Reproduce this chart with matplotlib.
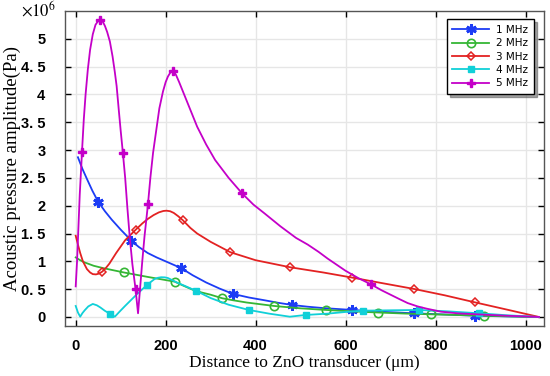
import matplotlib
matplotlib.use("Agg")
import matplotlib.pyplot as plt
from matplotlib.lines import Line2D

# values (x in um, y in 1e6 Pa)
x_1mhz = [5, 15, 25, 37, 50, 65, 80, 100, 124, 140, 160, 180, 200, 235, 260, 290, 320, 350, 385, 420, 450, 481, 515, 550, 615, 690, 752, 820, 887, 960, 1030]
y_1mhz = [2.87, 2.66, 2.48, 2.27, 2.07, 1.9, 1.75, 1.57, 1.37, 1.26, 1.15, 1.07, 1.0, 0.876, 0.75, 0.62, 0.51, 0.414, 0.35, 0.3, 0.255, 0.216, 0.185, 0.16, 0.126, 0.09, 0.066, 0.045, 0.023, 0.01, 0.0]
mk_1mhz_x = [50, 124, 235, 350, 481, 615, 752, 887]

x_2mhz = [0, 10, 20, 40, 60, 107, 160, 220, 240, 260, 280, 300, 326, 350, 380, 441, 500, 557, 615, 673, 730, 790, 850, 907, 970, 1030]
y_2mhz = [1.07, 1.02, 0.98, 0.92, 0.88, 0.80, 0.72, 0.635, 0.56, 0.49, 0.44, 0.40, 0.336, 0.3, 0.26, 0.198, 0.155, 0.126, 0.10, 0.08, 0.062, 0.048, 0.035, 0.023, 0.01, 0.0]
mk_2mhz_x = [107, 220, 326, 441, 557, 673, 790, 907]

x_3mhz = [0, 5, 10, 16, 25, 32, 38, 45, 52, 59, 67, 75, 90, 110, 133, 148, 160, 173, 185, 195, 202, 210, 218, 228, 238, 255, 270, 300, 344, 400, 477, 550, 615, 680, 752, 820, 887, 960, 1030]
y_3mhz = [1.46, 1.3, 1.15, 1.0, 0.86, 0.8, 0.77, 0.765, 0.78, 0.815, 0.88, 0.96, 1.15, 1.38, 1.565, 1.68, 1.76, 1.83, 1.88, 1.905, 1.91, 1.90, 1.87, 1.81, 1.74, 1.6, 1.5, 1.35, 1.163, 1.02, 0.893, 0.80, 0.707, 0.61, 0.504, 0.39, 0.264, 0.13, 0.0]
mk_3mhz_x = [59, 133, 238, 344, 477, 615, 752, 887]

x_4mhz = [0, 5, 10, 15, 20, 28, 38, 47, 55, 65, 77, 87, 98, 110, 135, 158.5, 175, 183, 190, 198, 205, 215, 225, 245, 268, 300, 340, 385, 430, 476, 511, 560, 600, 638, 700, 764, 830, 896, 960, 1030]
y_4mhz = [0.198, 0.08, 0.005, 0.07, 0.12, 0.19, 0.234, 0.21, 0.17, 0.11, 0.054, 0.005, 0.1, 0.2, 0.4, 0.576, 0.68, 0.705, 0.714, 0.712, 0.70, 0.66, 0.62, 0.55, 0.468, 0.34, 0.22, 0.126, 0.06, 0.005, 0.036, 0.06, 0.09, 0.113, 0.12, 0.126, 0.1, 0.066, 0.03, 0.0]
mk_4mhz_x = [77, 158.5, 268, 385, 511, 638, 764, 896]

x_5mhz = [0, 3, 6, 9, 12, 14, 18, 22, 27, 32, 38, 44, 50, 55, 60, 65, 70, 76, 82, 87, 91, 96, 100, 105, 110, 115, 120, 126, 133, 138.6, 143, 148, 153, 157, 160.7, 166, 172, 179, 186, 194, 200, 205, 211, 217, 223, 230, 240, 255, 270, 290, 310, 340, 370, 395, 420, 455, 490, 516, 540, 560, 580, 600, 628, 656, 680, 700, 720, 738, 760, 780, 812, 850, 887, 950, 1030]
y_5mhz = [0.55, 1.0, 1.6, 2.2, 2.65, 2.97, 3.55, 4.0, 4.45, 4.8, 5.08, 5.25, 5.32, 5.34, 5.31, 5.23, 5.12, 4.95, 4.68, 4.4, 4.15, 3.7, 3.35, 2.94, 2.5, 1.95, 1.45, 0.95, 0.504, 0.066, 0.5, 1.0, 1.45, 1.75, 2.03, 2.5, 2.95, 3.35, 3.75, 4.05, 4.22, 4.32, 4.4, 4.42, 4.35, 4.22, 4.02, 3.72, 3.42, 3.1, 2.82, 2.5, 2.22, 2.02, 1.86, 1.63, 1.42, 1.3, 1.17, 1.05, 0.94, 0.83, 0.7, 0.588, 0.48, 0.40, 0.32, 0.25, 0.19, 0.15, 0.095, 0.065, 0.05, 0.025, 0.0]
mk_5mhz_x = [14, 55, 105, 133, 160.7, 217, 370, 656]

labels = ["1 MHz", "2 MHz", "3 MHz", "4 MHz", "5 MHz"]
x_ticks = [0, 200, 400, 600, 800, 1000]
y_ticks = [0, 0.5, 1, 1.5, 2, 2.5, 3, 3.5, 4, 4.5, 5]
y_ticklabels = ["0", "0. 5", "1", "1. 5", "2", "2. 5", "3", "3. 5", "4", "4. 5", "5"]

plt.rcParams['mathtext.fontset'] = 'stix'

fig = plt.figure(figsize=(5.5, 3.76), dpi=100)
ax = fig.add_axes([0.118, 0.133, 0.871, 0.838])

series = [
    (x_1mhz, y_1mhz, mk_1mhz_x, '#1c3cf5', dict(marker=(6, 2, 0), markersize=7.5, markeredgewidth=2)),
    (x_2mhz, y_2mhz, mk_2mhz_x, '#35b635', dict(marker='o', markersize=6, markerfacecolor='none', markeredgewidth=1.2)),
    (x_3mhz, y_3mhz, mk_3mhz_x, '#e32222', dict(marker='D', markersize=4.5, markerfacecolor='none', markeredgewidth=1.1)),
    (x_4mhz, y_4mhz, mk_4mhz_x, '#10d0d8', dict(marker='s', markersize=4.5)),
    (x_5mhz, y_5mhz, mk_5mhz_x, '#c400c8', dict(marker='P', markersize=6)),
]

handles = []
for (xs, ys, mkx, col, style), lab in zip(series, labels):
    mk = [xs.index(v) for v in mkx]
    ax.plot(xs, ys, color=col, linewidth=1.3, markevery=mk, **style)
    handles.append(Line2D([], [], color=col, linewidth=1.3, label=lab, **style))

ax.set_xlim(-24, 1041)
ax.set_ylim(-0.162, 5.5)
ax.set_xticks(x_ticks)
ax.set_yticks(y_ticks)
ax.set_yticklabels(y_ticklabels)
ax.grid(True, color='#e6e6e6', linewidth=1.0)
ax.set_axisbelow(True)
ax.tick_params(direction='in', top=True, right=True, length=4, width=1,
               labelsize=10.5, pad=9.5)
ax.tick_params(axis='y', pad=14)
for lbl in ax.get_xticklabels() + ax.get_yticklabels():
    lbl.set_family('Liberation Sans')
    lbl.set_fontweight('bold')
for sp in ax.spines.values():
    sp.set_color('#555555')
    sp.set_linewidth(1.0)

ax.set_xlabel("Distance to ZnO transducer (μm)", family='Liberation Serif', fontsize=12.5, labelpad=1)
ax.set_ylabel("Acoustic pressure amplitude(Pa)", family='Liberation Serif', fontsize=13.5, labelpad=0)
fig.text(38 / 550, 1 - 10 / 376, r'$\times10^{6}$', fontsize=12, ha='center', va='center')

leg = ax.legend(handles=handles, loc='upper right', bbox_to_anchor=(0.99, 0.99), fontsize=7.5,
                frameon=True, fancybox=False, shadow=True, edgecolor='black',
                framealpha=1, borderpad=0.55, labelspacing=0.32, handlelength=3.5,
                handletextpad=0.7, numpoints=1)
leg.get_frame().set_linewidth(1.0)

fig.savefig("out.png", dpi=100)
